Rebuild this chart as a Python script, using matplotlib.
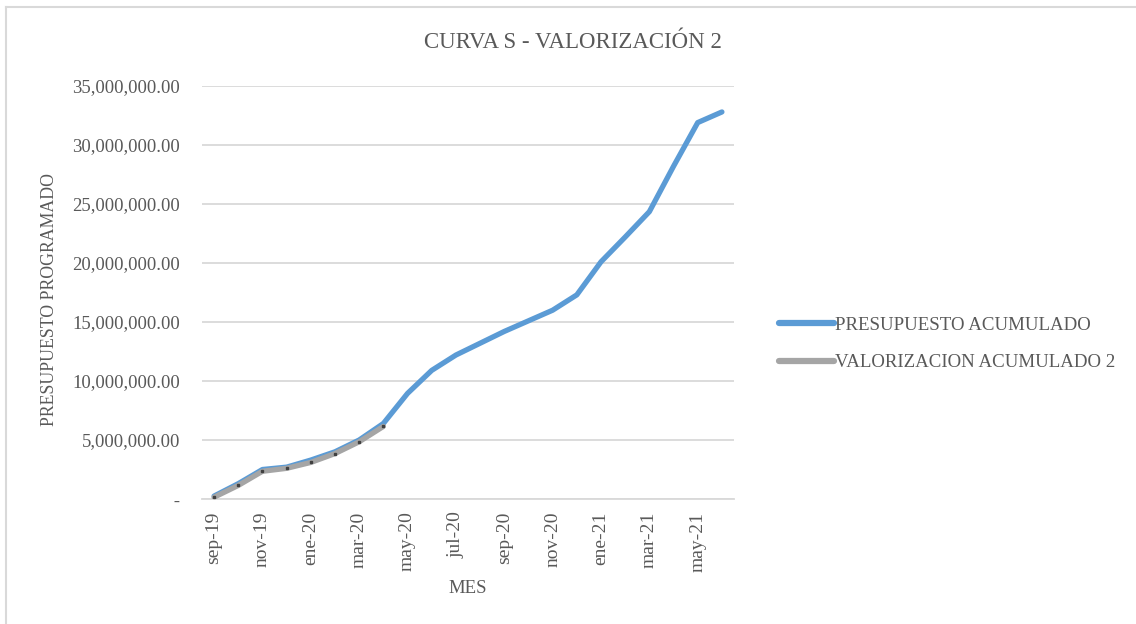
import numpy as np
import matplotlib
matplotlib.use("Agg")
import matplotlib.pyplot as plt
from matplotlib.lines import Line2D
from matplotlib.ticker import FuncFormatter

plt.rcParams['font.family'] = ['Liberation Serif', 'DejaVu Serif']

# datos
meses = ['sep-19', 'oct-19', 'nov-19', 'dic-19', 'ene-20', 'feb-20', 'mar-20',
         'abr-20', 'may-20', 'jun-20', 'jul-20', 'ago-20', 'sep-20', 'oct-20',
         'nov-20', 'dic-20', 'ene-21', 'feb-21', 'mar-21', 'abr-21', 'may-21',
         'jun-21']
presupuesto = [0.25e6, 1.3e6, 2.5e6, 2.7e6, 3.3e6, 4.0e6, 5.0e6, 6.4e6,
               8.95e6, 10.9e6, 12.2e6, 13.2e6, 14.2e6, 15.1e6, 16.0e6,
               17.3e6, 20.1e6, 22.2e6, 24.35e6, 28.2e6, 31.9e6, 32.8e6]
valorizacion = [0.15e6, 1.15e6, 2.35e6, 2.6e6, 3.1e6, 3.85e6, 4.85e6, 6.15e6]

azul = '#5b9bd5'
gris = '#a5a5a5'
texto = '#595959'

fig = plt.figure(figsize=(11.36, 6.24), dpi=100)
ax = fig.add_axes([202 / 1136, 1 - 499 / 624, 532 / 1136, 413 / 624])

x = np.arange(len(meses))
ax.plot(x, presupuesto, color=azul, lw=3.8, solid_capstyle='round',
        solid_joinstyle='round', label='PRESUPUESTO ACUMULADO', zorder=3)
ax.plot(x[:len(valorizacion)], valorizacion, color=gris, lw=3.8,
        solid_capstyle='round', solid_joinstyle='round', marker='s',
        markersize=1.5, markerfacecolor='#404040', markeredgecolor='#404040',
        label='VALORIZACION ACUMULADO 2', zorder=4)

ax.set_xlim(-0.5, len(meses) - 0.5)
ax.set_ylim(0, 35e6)
ax.set_yticks(np.arange(0, 35e6 + 1, 5e6))
ax.yaxis.set_major_formatter(FuncFormatter(
    lambda v, p: ' -' if v == 0 else '{:,.2f}'.format(v)))
ax.set_xticks(x[::2])
ax.set_xticklabels(meses[::2], rotation=90)
ax.tick_params(length=0, colors=texto)
ax.tick_params(axis='x', pad=9, labelsize=14)
ax.tick_params(axis='y', pad=16, labelsize=13.5)
ax.grid(axis='y', color='#d9d9d9', lw=1.3)
ax.set_axisbelow(True)
for s in ['top', 'right', 'left']:
    ax.spines[s].set_visible(False)
ax.spines['bottom'].set_color('#d9d9d9')
ax.spines['bottom'].set_linewidth(1.3)

ax.set_xlabel('MES', color=texto, fontsize=13.5, labelpad=6)
ax.set_ylabel('PRESUPUESTO PROGRAMADO', color=texto, fontsize=12.8)
ax.yaxis.set_label_coords(-0.2707, 0.482)
fig.text(573 / 1136, 1 - 42 / 624, 'CURVA S - VALORIZACIÓN 2', color=texto,
         fontsize=16.5, ha='center', va='center')

leg = fig.legend(loc='center left', bbox_to_anchor=(762 / 1136, 1 - 344 / 624),
                 frameon=False, fontsize=13.6, labelspacing=1.05,
                 handlelength=2.9, handletextpad=0.05)
for t in leg.get_texts():
    t.set_color(texto)
for h in leg.get_lines():
    h.set_linewidth(4.5)
    h.set_marker('')

# borde del area del grafico
fig.add_artist(Line2D([6 / 1136, 6 / 1136], [0, 1 - 7 / 624],
                      color='#d9d9d9', lw=1.5, transform=fig.transFigure))
fig.add_artist(Line2D([6 / 1136, 1], [1 - 7 / 624, 1 - 7 / 624],
                      color='#d9d9d9', lw=1.5, transform=fig.transFigure))

fig.savefig('out.png', dpi=100)
